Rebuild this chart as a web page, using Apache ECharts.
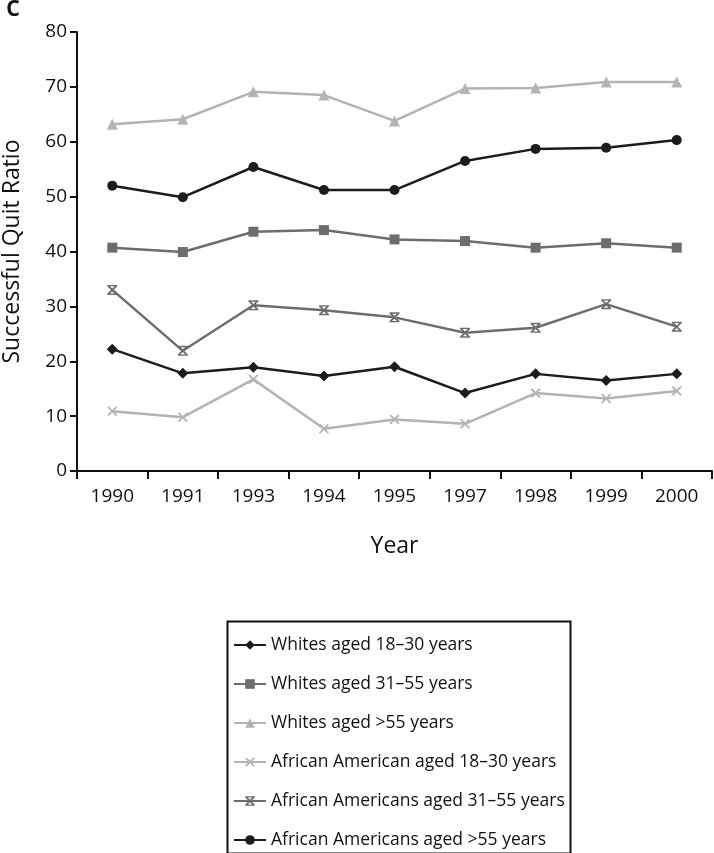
<!DOCTYPE html>
<html><head><meta charset="utf-8">
<script src="https://cdn.jsdelivr.net/npm/echarts@6/dist/echarts.min.js"></script>
<style>html,body{margin:0;padding:0;background:#fff}#c{width:714px;height:853px}</style>
</head><body><div id="c"></div>
<script>
const years = ['1990','1991','1993','1994','1995','1997','1998','1999','2000'];
const seriesNames = ['Whites aged 18–30 years','Whites aged 31–55 years','Whites aged >55 years','African American aged 18–30 years','African Americans aged 31–55 years','African Americans aged >55 years'];
const whites1830 = [22.2,17.8,18.9,17.3,19.0,14.2,17.7,16.5,17.7];
const whites3155 = [40.7,39.9,43.6,43.9,42.2,41.9,40.7,41.5,40.7];
const whites55 = [63.2,64.1,69.1,68.5,63.8,69.7,69.8,70.9,70.9];
const aa1830 = [10.9,9.8,16.7,7.7,9.4,8.6,14.2,13.2,14.6];
const aa3155 = [33.0,21.9,30.2,29.3,28.0,25.2,26.1,30.4,26.3];
const aa55 = [52.0,49.9,55.4,51.2,51.2,56.5,58.7,58.9,60.3];
const yTicks = [0,10,20,30,40,50,60,70,80];

const BLACK='#1c1c1c', GRAY='#6d6d6d', LIGHT='#b3b3b3';
const xPath='path://M0,1.3 L1.3,0 L5,3.7 L8.7,0 L10,1.3 L6.3,5 L10,8.7 L8.7,10 L5,6.3 L1.3,10 L0,8.7 L3.7,5 Z';
const starPath='path://M0,1.3 L1.3,0 L5,3.7 L8.7,0 L10,1.3 L6.3,5 L10,8.7 L8.7,10 L5,6.3 L1.3,10 L0,8.7 L3.7,5 Z M0,0 L10,0 L10,1.4 L0,1.4 Z M0,8.6 L10,8.6 L10,10 L0,10 Z';
const defs = [
  {d:whites1830,c:BLACK,s:'diamond',sz:11},
  {d:whites3155,c:GRAY,s:'rect',sz:10},
  {d:whites55,c:LIGHT,s:'triangle',sz:11},
  {d:aa1830,c:LIGHT,s:xPath,sz:10},
  {d:aa3155,c:GRAY,s:starPath,sz:10},
  {d:aa55,c:BLACK,s:'circle',sz:10}
];
const FONT='"Open Sans", "Noto Sans", sans-serif';
const chart = echarts.init(document.getElementById('c'));
chart.setOption({
  animation:false,
  textStyle:{fontFamily:FONT},
  graphic:[
    {type:'text',left:6,top:-6,style:{text:'c',fontSize:28,fontWeight:600,fontFamily:FONT,fill:'#111'}},
    {type:'rect',left:225,top:619,shape:{width:343,height:232},style:{fill:'none',stroke:'#111',lineWidth:2}}
  ],
  grid:{left:77,right:2,top:32,bottom:382,containLabel:false,outerBoundsMode:'none'},
  xAxis:{type:'category',data:years,boundaryGap:true,
    name:'Year',nameLocation:'middle',nameGap:64,nameTextStyle:{fontSize:23,color:'#111'},
    axisLine:{lineStyle:{color:'#111',width:2}},
    axisTick:{show:true,length:8,lineStyle:{color:'#111',width:2}},
    axisLabel:{fontSize:19,color:'#111',margin:16}},
  yAxis:{type:'value',min:0,max:80,interval:10,
    name:'Successful Quit Ratio',nameLocation:'middle',nameGap:53,nameTextStyle:{fontSize:23,color:'#111'},
    axisLine:{show:true,lineStyle:{color:'#111',width:2}},
    axisTick:{show:true,length:7,lineStyle:{color:'#111',width:2}},
    splitLine:{show:false},
    axisLabel:{fontSize:19,color:'#111',margin:10,formatter:v=>yTicks.includes(v)?String(v):''}},
  legend:{orient:'vertical',left:233,top:636,itemWidth:32,itemHeight:12,itemGap:21,
    padding:0,height:230,
    textStyle:{fontSize:17.5,color:'#111',fontFamily:FONT},data:seriesNames},
  series: defs.map((o,i)=>({name:seriesNames[i],type:'line',data:o.d,symbol:o.s,symbolSize:o.sz,
    lineStyle:{color:o.c,width:2.5},itemStyle:{color:o.c},color:o.c}))
});
</script></body></html>
